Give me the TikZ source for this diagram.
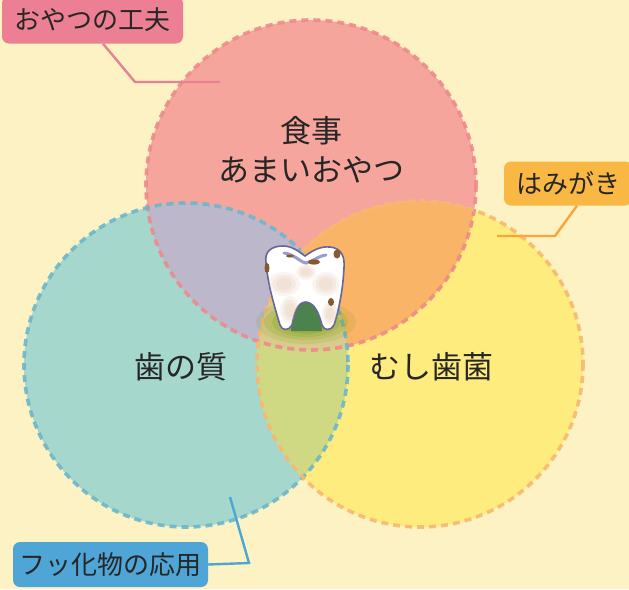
\documentclass[tikz,border=0pt]{standalone}
\usepackage{fontspec}
\newfontfamily\jp{Noto Sans CJK JP}
\definecolor{bg}{HTML}{FCF2C3}
\definecolor{pinkfill}{HTML}{F5A59B}
\definecolor{tealfill}{HTML}{A6D7CD}
\definecolor{yelfill}{HTML}{FFEC7E}
\definecolor{lavfill}{HTML}{BCB7CA}
\definecolor{orgfill}{HTML}{F9B467}
\definecolor{grnfill}{HTML}{CFD983}
\definecolor{trifill}{HTML}{D8CB8C}
\definecolor{pinkline}{HTML}{EE8A8C}
\definecolor{tealline}{HTML}{6DB6CB}
\definecolor{yelline}{HTML}{F8B870}
\definecolor{pinkbox}{HTML}{EC7F93}
\definecolor{orgbox}{HTML}{F9B843}
\definecolor{bluebox}{HTML}{4EA5D6}
\definecolor{ink}{HTML}{262626}
\tikzset{
  rim/.style={dashed, dash pattern=on 7pt off 5pt, line width=3.6pt, opacity=.9},
  tag/.style={rounded corners=7pt, inner sep=0pt, text=ink,
    font=\jp\fontsize{26}{30}\selectfont},
  lead/.style={line width=2.4pt},
  bigtext/.style={text=ink, align=center, font=\jp\fontsize{31}{39}\selectfont}
}
\begin{document}
\begin{tikzpicture}[x=1pt,y=-1pt]
\useasboundingbox (0,0) rectangle (629,589);
\fill[bg] (0,0) rectangle (629,589);

% the three circles
\def\circT{(311,185) circle[radius=165]}
\def\circL{(186,365) circle[radius=162]}
\def\circR{(420,364) circle[radius=163]}
\fill[pinkfill] \circT;
\fill[tealfill] \circL;
\fill[yelfill] \circR;
\begin{scope}\clip \circT; \fill[lavfill] \circL; \end{scope}
\begin{scope}\clip \circT; \fill[orgfill] \circR; \end{scope}
\begin{scope}\clip \circL; \fill[grnfill] \circR; \end{scope}
\begin{scope}\clip \circT; \clip \circL; \fill[trifill] \circR; \end{scope}
\draw[rim, pinkline] \circT;
\draw[rim, tealline] \circL;
\draw[rim, yelline] \circR;

% soft green shadow at the base of the tooth
\foreach \rx/\ry/\op in {50/22/.12, 42/18/.15, 34/15/.18, 26/12/.22, 18/9/.25}
  \fill[green!35!black!60!yellow, opacity=\op] (306,322) ellipse[x radius=\rx, y radius=\ry];
\fill[green!30!black!70!white] (291,331) -- (292,318) .. controls (295,306) and (300,300) .. (306,300)
  .. controls (313,300) and (318,308) .. (321,318) -- (322,331) -- cycle;

% tooth
\coordinate (tooth) at (305,288);
\draw[line width=1.6pt, draw=gray!80!blue, fill=white]
  (266,263) .. controls (264,251) and (272,246) .. (283,246)
  .. controls (292,246) and (298,251) .. (305,256)
  .. controls (312,251) and (320,246) .. (330,247)
  .. controls (341,248) and (345,256) .. (344,268)
  .. controls (343,287) and (340,306) .. (334,325)
  .. controls (331,331) and (324,331) .. (322,325)
  .. controls (319,314) and (315,303) .. (306,302)
  .. controls (297,302) and (294,314) .. (292,325)
  .. controls (289,331) and (282,331) .. (280,325)
  .. controls (274,305) and (268,285) .. cycle;
\begin{scope}
  \clip (266,263) .. controls (264,251) and (272,246) .. (283,246)
  .. controls (292,246) and (298,251) .. (305,256)
  .. controls (312,251) and (320,246) .. (330,247)
  .. controls (341,248) and (345,256) .. (344,268)
  .. controls (343,287) and (340,306) .. (334,325)
  .. controls (331,331) and (324,331) .. (322,325)
  .. controls (319,314) and (315,303) .. (306,302)
  .. controls (297,302) and (294,314) .. (292,325)
  .. controls (289,331) and (282,331) .. (280,325)
  .. controls (274,305) and (268,285) .. cycle;
  \foreach \cx/\cy/\rx/\ry in {284/284/16/12, 326/284/14/12, 306/272/10/8, 290/310/10/14, 330/314/8/12}
    \foreach \s/\op in {1/.18, .75/.2, .5/.22}
      \fill[brown!45!white, opacity=\op] (\cx,\cy) ellipse[x radius=\s*\rx, y radius=\s*\ry];
\end{scope}
% worn enamel on top and small dark spots
\draw[line width=3pt, line cap=round, color=gray!60!blue!70!white, opacity=.8]
  (284,253) .. controls (294,254) and (300,262) .. (306,263) .. controls (312,262) and (318,256) .. (326,255);
\fill[brown!70!black] (314,262) ellipse[x radius=6, y radius=2.6];
\fill[brown!70!black] (337,254) ellipse[x radius=3.5, y radius=4.5];
\fill[brown!70!black] (267,268) ellipse[x radius=2.5, y radius=5];
\fill[brown!70!black] (331,302) ellipse[x radius=3, y radius=4];
\fill[brown!70!black] (290,256) ellipse[x radius=4, y radius=1.5];

% circle captions
\node[bigtext] (meal) at (311,150) {食事\\あまいおやつ};
\node[bigtext] (enamel) at (181,367) {歯の質};
\node[bigtext] (germ) at (431,367) {むし歯菌};

% labels with leader lines
\node[tag, fill=pinkbox, minimum width=181pt, minimum height=47pt] (snack) at (92.5,20) {おやつの工夫};
\node[tag, fill=orgbox, minimum width=128pt, minimum height=44pt] (brush) at (568,183.5) {はみがき};
\node[tag, fill=bluebox, minimum width=195pt, minimum height=45pt] (fluor) at (110.5,564.5) {フッ化物の応用};

\coordinate (snackbend) at (135,82);
\coordinate (snackend) at (220,82);
\draw[lead, pinkbox] (snack.south -| 103,0) -- (snackbend) -- (snackend);

\coordinate (brushbend) at (555,236);
\coordinate (brushend) at (497,236);
\draw[lead, orgbox!90!red] (brush.south -| 577,0) -- (brushbend) -- (brushend);

\coordinate (fluorbend) at (249,563);
\coordinate (fluorend) at (230,497);
\draw[lead, bluebox] (fluor.east) -- (fluorbend) -- (fluorend);
\end{tikzpicture}
\end{document}
